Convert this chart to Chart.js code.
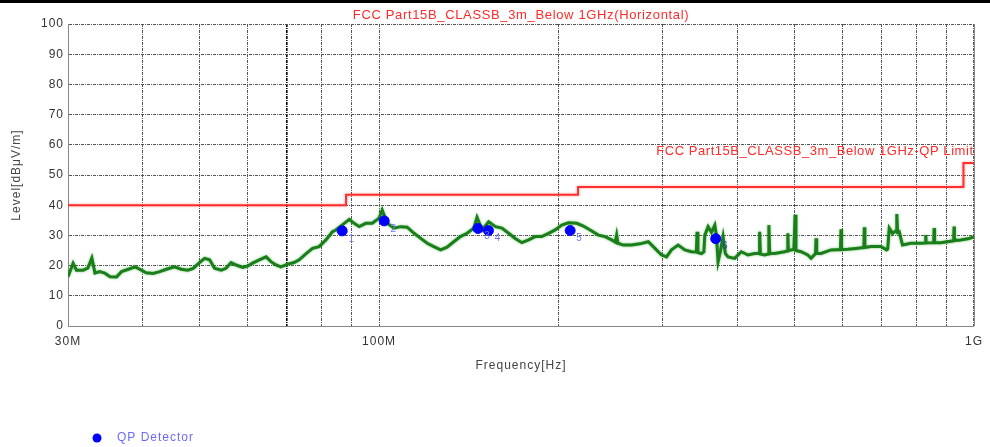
<!DOCTYPE html>
<html><head><meta charset="utf-8">
<script src="https://cdn.jsdelivr.net/npm/chart.js@4/dist/chart.umd.min.js"></script>
<style>html,body{margin:0;padding:0;background:#fff;overflow:hidden}canvas{display:block}</style>
</head><body>
<canvas id="c" width="990" height="447"></canvas>
<script>
// ---- data (frequency in MHz, level in dBµV/m) ----
const traceFreq = [30.0,30.6,31.0,31.8,32.4,32.9,33.3,33.9,34.6,35.3,36.2,36.9,37.9,38.9,39.6,40.6,41.7,42.8,43.9,45.3,46.5,47.7,48.7,49.9,50.9,51.9,52.9,54.3,55.3,56.4,57.5,59.0,60.2,61.3,62.9,64.6,65.8,67.1,68.4,70.2,72.0,73.4,75.4,77.3,79.3,81.4,83.5,84.6,87.4,89.1,90.8,92.6,95.0,97.4,100.0,101.2,103.2,106.0,108.7,111.5,114.5,117.5,120.5,123.6,126.9,130.1,133.5,137.0,140.6,144.3,146.1,149.0,152.8,156.9,160.9,165.1,169.4,173.8,178.4,183.0,187.7,192.7,197.7,202.8,208.1,214.9,220.5,226.3,233.7,239.8,246.0,249.5,250.8,252.0,257.4,265.7,274.5,283.5,290.9,298.4,304.2,310.1,318.2,326.6,335.0,341.5,342.4,343.5,348.2,351.5,352.8,357.3,362.0,366.7,369.0,371.4,375.0,378.6,382.0,386.0,396.1,406.3,416.9,427.8,435.2,436.2,437.5,444.7,451.0,452.1,453.5,462.2,480.4,485.5,486.5,487.5,498.0,500.4,502.0,512.1,525.6,532.3,541.5,542.7,544.0,553.3,575.0,596.5,597.7,599.0,613.3,633.3,653.0,654.2,655.5,671.0,697.4,712.9,716.0,720.4,729.6,740.0,741.8,744.0,748.7,758.3,783.0,813.8,828.5,829.7,831.0,855.5,857.0,858.5,879.1,924.5,925.7,927.0,949.6,980.9,1000];
const traceLevel = [16.3,20.8,18.5,18.5,19.2,22.5,17.5,18.0,17.5,16.3,16.2,18.0,18.8,19.6,18.8,17.6,17.4,18.0,18.8,19.6,18.8,18.5,19.1,21.0,22.4,21.9,19.1,18.5,19.1,21.0,20.2,19.4,19.9,20.8,21.9,22.9,21.3,20.2,19.6,20.5,21.0,21.9,24.0,25.7,26.3,28.5,31.2,31.8,34.0,35.3,34.0,32.9,34.0,34.0,35.7,38.4,34.0,32.4,32.9,32.7,30.7,29.0,27.4,26.3,25.2,26.1,27.9,29.6,30.7,32.4,36.0,31.8,34.5,32.9,32.4,30.7,29.0,27.6,28.5,29.6,29.6,30.7,31.8,33.4,34.2,34.0,33.1,31.8,30.1,29.6,28.5,27.8,30.1,27.4,26.8,26.8,27.2,27.9,25.7,23.5,22.9,25.2,26.8,25.2,24.6,24.5,31.2,24.3,24.0,24.5,30.1,32.9,31.0,33.4,30.0,21.3,25.0,29.6,24.0,22.9,22.4,24.6,23.5,24.0,24.0,31.2,23.8,23.5,23.8,33.4,24.0,24.0,24.6,24.8,30.7,25.0,25.3,36.8,25.0,24.6,23.5,22.4,24.0,29.0,24.0,24.0,25.2,25.3,32.0,25.3,25.4,25.7,26.0,32.7,26.0,26.3,26.3,25.2,25.5,32.4,30.7,31.5,37.1,31.0,31.2,26.8,27.4,27.4,27.5,30.1,27.5,27.6,32.4,27.6,27.6,28.2,32.9,28.3,28.5,29.0,29.5];
const limitFreq  = [30, 88, 216, 960, 1000];
const limitLevel = [40, 43.5, 46, 54, 54];
const markerFreq  = [86.7, 102.0, 146.6, 152.7, 209.5, 368.0];
const markerLevel = [31.5, 34.8, 32.3, 31.6, 31.6, 28.9];
const markerLabels = ['1','2','3','4','5','6'];
const xTickValues = [30,40,50,60,70,80,90,100,200,300,400,500,600,700,800,900,1000];
const xTickLabels = {30:'30M', 100:'100M', 1000:'1G'};
const yTickValues = [0,10,20,30,40,50,60,70,80,90,100];
const chartTitle = 'FCC Part15B_CLASSB_3m_Below 1GHz(Horizontal)';
const limitName  = 'FCC Part15B_CLASSB_3m_Below 1GHz-QP Limit';
const xTitle = 'Frequency[Hz]';
const yTitle = 'Level[dBμV/m]';
const legendLabel = 'QP Detector';

const FONT = "'Liberation Sans', Arial, sans-serif";
const pts = (xs, ys) => xs.map((x, i) => ({x: x, y: ys[i]}));

const decor = {
  id: 'decor',
  beforeDraw(chart) {
    const c = chart.ctx;
    c.save();
    c.fillStyle = '#fff';
    c.fillRect(0, 0, chart.width, chart.height);
    c.fillStyle = '#000';
    c.fillRect(0, 0, chart.width, 3);
    c.restore();
    c.letterSpacing = '1px';
  },
  beforeDatasetDraw(chart, args) {
    const c = chart.ctx;
    c.save();
    if (args.index === 1) { c.shadowColor = 'rgba(0,140,0,0.55)'; c.shadowBlur = 2.5; }
    if (args.index === 2) { c.shadowColor = 'rgba(255,80,80,0.6)'; c.shadowBlur = 2.5; }
  },
  afterDatasetDraw(chart) { chart.ctx.restore(); },
  afterDraw(chart) {
    const c = chart.ctx, a = chart.chartArea;
    c.save();
    // right frame
    c.strokeStyle = '#888'; c.lineWidth = 1;
    c.beginPath(); c.moveTo(a.right + 0.5, a.top); c.lineTo(a.right + 0.5, a.bottom); c.stroke();
    // title
    c.letterSpacing = '0.65px';
    c.font = '13px ' + FONT;
    c.fillStyle = '#ff2a2a';
    c.textAlign = 'center'; c.textBaseline = 'alphabetic';
    c.fillText(chartTitle, (a.left + a.right) / 2, 19);
    // limit name
    c.letterSpacing = '0px';
    c.textAlign = 'left';
    const w = c.measureText(limitName).width;
    const sp = 0.55;
    c.letterSpacing = sp + 'px';
    c.fillText(limitName, a.right - 1 - w - sp * (limitName.length - 1), 155);
    // axis titles
    c.letterSpacing = '1px';
    c.font = '12px ' + FONT;
    c.fillStyle = '#444';
    c.textAlign = 'center'; c.textBaseline = 'middle';
    c.fillText(xTitle, (a.left + a.right) / 2, 366);
    c.save();
    c.translate(17, 175); c.rotate(-Math.PI / 2);
    c.fillText(yTitle, 0, 0);
    c.restore();
    // marker labels
    c.letterSpacing = '0px';
    const meta = chart.getDatasetMeta(0);
    c.font = '10px ' + FONT;
    meta.data.forEach((p, i) => {
      c.fillStyle = i === 5 ? '#2a4aa8' : '#7070ff';
      c.fillText(markerLabels[i], p.x + 9, p.y + 8);
    });
    // legend
    c.fillStyle = '#0000ff';
    c.beginPath(); c.arc(97, 438, 4.5, 0, Math.PI * 2); c.fill();
    c.letterSpacing = '1px';
    c.font = '12px ' + FONT;
    c.fillStyle = '#6b6bff';
    c.textAlign = 'left';
    c.fillText(legendLabel, 117, 438);
    c.restore();
  }
};

new Chart(document.getElementById('c'), {
  type: 'line',
  data: {
    datasets: [
      { label: legendLabel, type: 'scatter', data: pts(markerFreq, markerLevel),
        pointRadius: 5, pointHoverRadius: 5, pointBackgroundColor: '#0000ff', pointBorderColor: '#0000ff',
        showLine: false, order: 0 },
      { label: 'Trace', data: pts(traceFreq, traceLevel), borderColor: '#1a7f1a', borderWidth: 3,
        pointRadius: 0, tension: 0, fill: false, order: 1 },
      { label: limitName, data: pts(limitFreq, limitLevel), borderColor: 'rgba(255,40,40,0.95)', borderWidth: 2,
        pointRadius: 0, stepped: 'before', fill: false, order: 2 }
    ]
  },
  options: {
    responsive: false, animation: false, devicePixelRatio: 1,
    layout: { padding: { left: 0, right: 13, top: 24, bottom: 0 } },
    plugins: { legend: { display: false }, tooltip: { enabled: false }, title: { display: false } },
    scales: {
      x: {
        type: 'logarithmic', min: 30, max: 1000,
        afterFit(s) { s.height = 121; },
        afterBuildTicks(s) { s.ticks = xTickValues.map(v => ({ value: v })); },
        ticks: { autoSkip: false, maxRotation: 0, minRotation: 0, padding: 8, color: '#333',
                 font: { family: FONT, size: 12 }, callback: (v) => xTickLabels[v] || '' },
        grid: { drawTicks: false,
                color: (ctx) => (ctx.tick && ctx.tick.value === 70) ? '#000' : '#555',
                lineWidth: (ctx) => (ctx.tick && ctx.tick.value === 70) ? 1.6 : 1 },
        border: { display: true, color: '#888', width: 1, dash: [3, 1, 1, 1] }
      },
      y: {
        min: 0, max: 100,
        afterFit(s) { s.width = 68; },
        afterBuildTicks(s) { s.ticks = yTickValues.map(v => ({ value: v })); },
        ticks: { padding: 4, color: '#333', font: { family: FONT, size: 12 } },
        grid: { drawTicks: false, color: '#555', lineWidth: 1 },
        border: { display: true, color: '#888', width: 1, dash: [3, 1, 1, 1] }
      }
    }
  },
  plugins: [decor]
});
</script>
</body></html>
